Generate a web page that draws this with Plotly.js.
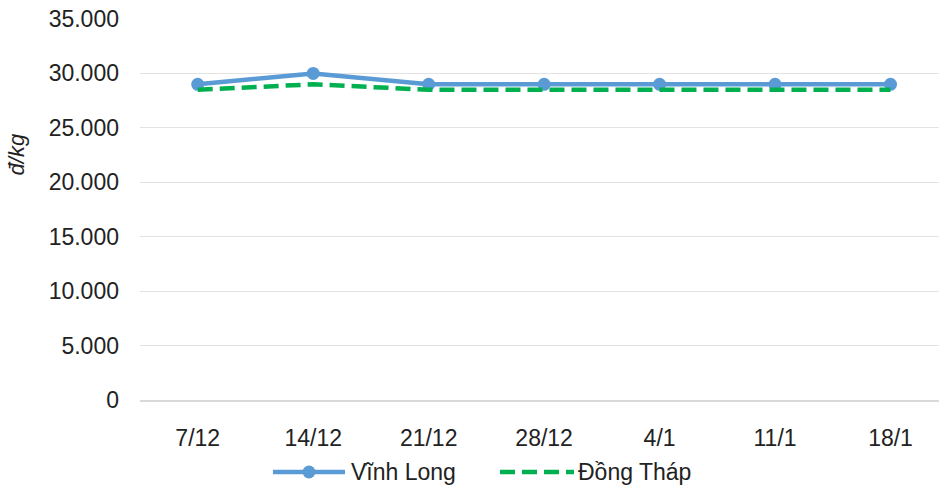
<!DOCTYPE html>
<html>
<head>
<meta charset="utf-8">
<script src="https://cdn.plot.ly/plotly-3.0.1.min.js"></script>
<style>html,body{margin:0;padding:0;background:#fff;}#chart{width:939px;height:486px;}</style>
</head>
<body>
<div id="chart"></div>
<script>
const categories = ["7/12", "14/12", "21/12", "28/12", "4/1", "11/1", "18/1"];
const vinhLong = [29000, 30000, 29000, 29000, 29000, 29000, 29000];
const dongThap = [28500, 29000, 28500, 28500, 28500, 28500, 28500];
const yTicks = [0, 5000, 10000, 15000, 20000, 25000, 30000, 35000];
const yTickText = ["0", "5.000", "10.000", "15.000", "20.000", "25.000", "30.000", "35.000"];
const seriesNames = ["Vĩnh Long", "Đồng Tháp"];

const BLUE = "#5B9BD5", GREEN = "#00B050";
const font = {family: "Liberation Sans, Arial, sans-serif", size: 23, color: "#222222"};

const traces = [
  {
    x: categories, y: vinhLong, name: seriesNames[0], type: "scatter", mode: "lines+markers",
    line: {color: BLUE, width: 4.5},
    marker: {color: BLUE, size: 13}
  },
  {
    x: categories, y: dongThap, name: seriesNames[1], type: "scatter", mode: "lines",
    line: {color: GREEN, width: 4.5, dash: "15px,7px"}
  }
];

// legend drawn manually (plot area: left 140px, width 799px, top 19px, height 381px)
const W = 799, H = 381, L = 140, B = 400;
const px = v => (v - L) / W;
const py = v => (B - v) / H;
const legY = py(472);

const shapes = [
  {type: "line", xref: "paper", yref: "paper", x0: px(273), x1: px(345), y0: legY, y1: legY,
   line: {color: BLUE, width: 4.5}},
  {type: "circle", xref: "paper", yref: "paper", xsizemode: "pixel", ysizemode: "pixel",
   xanchor: px(309), yanchor: legY, x0: -6.5, x1: 6.5, y0: -6.5, y1: 6.5,
   fillcolor: BLUE, line: {color: BLUE, width: 0}},
  {type: "line", xref: "paper", yref: "paper", x0: px(500), x1: px(574), y0: legY, y1: legY,
   line: {color: GREEN, width: 4.5, dash: "15px,7px"}}
];

const annotations = [
  {text: "<i>đ/kg</i>", xref: "paper", yref: "paper", x: -0.155, y: 0.645,
   xanchor: "center", yanchor: "middle", textangle: -90, showarrow: false,
   font: {family: "Liberation Sans, Arial, sans-serif", size: 22, color: "#222222"}},
  {text: seriesNames[0], xref: "paper", yref: "paper", x: px(349), y: legY,
   xanchor: "left", yanchor: "middle", showarrow: false, font: font},
  {text: seriesNames[1], xref: "paper", yref: "paper", x: px(576), y: legY,
   xanchor: "left", yanchor: "middle", showarrow: false, font: font}
];

const layout = {
  width: 939, height: 486,
  margin: {l: 140, r: 0, t: 19, b: 86},
  paper_bgcolor: "#ffffff", plot_bgcolor: "#ffffff",
  font: font,
  showlegend: false,
  xaxis: {
    type: "category", range: [-0.5, 6.42], showgrid: false, zeroline: false,
    showline: true, linecolor: "#D9D9D9", linewidth: 1.5,
    ticks: "", ticklabelstandoff: 17, tickfont: font, fixedrange: true
  },
  yaxis: {
    range: [0, 35000], tickvals: yTicks, ticktext: yTickText,
    showgrid: true, gridcolor: "#E3E3E3", gridwidth: 1, zeroline: false,
    showline: false, ticks: "", ticklabelstandoff: 20, tickfont: font, fixedrange: true
  },
  shapes: shapes,
  annotations: annotations
};

Plotly.newPlot("chart", traces, layout, {displayModeBar: false, staticPlot: true});
</script>
</body>
</html>
